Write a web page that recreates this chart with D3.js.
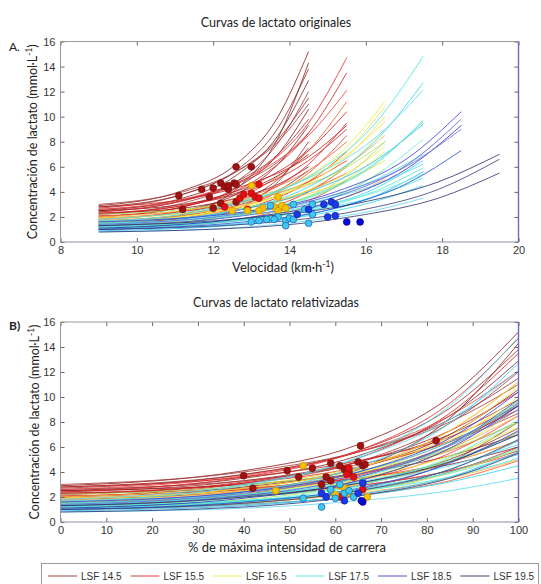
<!DOCTYPE html>
<html>
<head>
<meta charset="utf-8">
<script src="https://cdn.jsdelivr.net/npm/d3@7"></script>
<style>
  body { margin: 0; background: #fff; }
  svg text { font-family: "Liberation Sans", Arial, sans-serif; }
  .rotulo { font-family: Lato, "Open Sans", sans-serif; fill: #222; }
</style>
</head>
<body>
<div id="grafico"></div>
<script>
// Grupos (velocidad máxima de carrera) y muestras de cada curva
const grupos = ["LSF 14.5", "LSF 15.5", "LSF 16.5", "LSF 17.5", "LSF 18.5", "LSF 19.5"];
const velMuestras = [
  [9, 11.2, 12.6, 13.7, 14.5],
  [9, 11.6, 13.2, 14.5, 15.5],
  [9, 12, 13.9, 15.4, 16.5],
  [9, 12.4, 14.5, 16.2, 17.5],
  [9, 12.8, 15.2, 17.1, 18.5],
  [9, 13.2, 15.8, 17.9, 19.5]
];
const relMuestras = [0, 40, 65, 85, 100];

const lactato145 = [
  [2.9, 4.1, 6.2, 10.0, 15.2], [2.7, 3.8, 5.7, 9.1, 13.8], [2.5, 3.5, 5.3, 8.5, 12.9],
  [2.2, 3.1, 4.8, 7.9, 12.0], [2.8, 3.8, 5.6, 8.2, 11.5], [2.0, 2.8, 4.3, 7.0, 10.6],
  [2.4, 3.3, 4.8, 7.0, 9.8], [1.8, 2.5, 3.8, 6.2, 9.3], [2.6, 3.3, 4.6, 6.4, 8.7],
  [1.5, 2.1, 3.1, 5.0, 7.5], [2.3, 2.7, 3.5, 4.6, 6.0], [1.6, 2.1, 2.9, 4.1, 5.7],
  [1.2, 2.2, 4.2, 8.3, 14.3], [3.0, 4.0, 5.6, 8.0, 11.0], [1.0, 1.5, 2.6, 4.8, 8.0],
  [2.5, 3.0, 3.9, 5.3, 7.0]
];
const lactato155 = [
  [2.4, 3.6, 5.7, 9.5, 14.7], [2.0, 3.1, 5.1, 8.7, 13.5], [2.6, 3.7, 5.6, 8.5, 12.1],
  [1.8, 2.7, 4.3, 7.3, 11.2], [2.2, 3.2, 4.8, 7.3, 10.4], [1.6, 2.4, 3.7, 6.2, 9.5],
  [2.3, 3.1, 4.4, 6.5, 9.0], [1.4, 2.1, 3.3, 5.5, 8.5], [1.9, 2.6, 3.9, 5.7, 8.0],
  [1.5, 2.0, 3.0, 4.8, 7.2], [2.1, 2.6, 3.5, 4.8, 6.5], [1.2, 1.7, 2.5, 4.0, 6.0],
  [1.7, 2.2, 2.9, 4.1, 5.5], [1.0, 1.4, 2.1, 3.3, 4.9], [2.8, 3.6, 4.9, 6.8, 9.3]
];
const lactato165 = [
  [1.8, 2.7, 4.3, 7.3, 11.2], [1.5, 2.4, 4.0, 6.9, 10.8], [2.0, 2.9, 4.4, 6.7, 9.6],
  [1.3, 2.0, 3.4, 5.8, 9.0], [1.7, 2.5, 3.9, 5.9, 8.5], [1.1, 1.8, 3.0, 5.1, 8.0],
  [1.6, 2.3, 3.5, 5.3, 7.6], [1.4, 2.0, 3.0, 4.8, 7.2], [1.9, 2.5, 3.4, 4.8, 6.5],
  [1.2, 1.6, 2.4, 3.9, 5.8], [1.0, 1.5, 2.3, 3.5, 5.0], [2.2, 2.9, 4.1, 5.8, 8.0],
  [1.6, 2.4, 3.9, 6.5, 10.0]
];
const lactato175 = [
  [1.6, 2.9, 5.2, 9.3, 14.8], [1.3, 2.4, 4.4, 7.9, 12.7], [1.8, 3.0, 5.1, 8.2, 12.1],
  [1.2, 2.0, 3.5, 6.1, 9.7], [1.5, 2.4, 4.0, 6.4, 9.4], [1.0, 1.7, 2.9, 5.2, 8.2],
  [1.4, 2.1, 3.2, 4.9, 7.0], [1.1, 1.6, 2.6, 4.2, 6.5], [1.7, 2.2, 3.1, 4.5, 6.2],
  [1.3, 1.7, 2.5, 4.0, 5.9], [0.9, 1.3, 2.2, 3.6, 5.6], [1.5, 2.0, 2.8, 3.9, 5.4],
  [1.2, 1.7, 2.5, 3.6, 5.1], [1.0, 1.4, 2.1, 3.2, 4.5], [0.8, 1.1, 1.7, 2.5, 3.5],
  [1.4, 2.2, 3.6, 6.2, 9.6]
];
const lactato185 = [
  [1.6, 2.4, 4.0, 6.7, 10.4], [1.3, 2.1, 3.6, 6.2, 9.8], [1.1, 1.9, 3.3, 5.9, 9.3],
  [1.4, 2.3, 3.8, 6.1, 9.0], [1.0, 1.6, 2.7, 4.7, 7.3]
];
const lactato195 = [
  [1.3, 2.0, 3.1, 4.8, 7.0], [1.0, 1.5, 2.5, 4.2, 6.6], [0.8, 1.2, 2.1, 3.5, 5.5]
];
const curvasPorGrupo = [lactato145, lactato155, lactato165, lactato175, lactato185, lactato195];

// Umbrales individuales (puntos): velocidad y % de intensidad máxima
const puntosA = [
  [[11.1, 3.7], [11.2, 2.6], [11.7, 4.2], [11.9, 3.6], [12.0, 4.3], [12.2, 4.7], [12.3, 4.4], [12.4, 4.2],
   [12.4, 4.5], [12.55, 4.7], [12.6, 4.6], [12.6, 6.0], [13.0, 6.0], [12.2, 3.1], [12.0, 2.7], [12.6, 3.2]],
  [[12.7, 3.5], [12.8, 3.8], [13.0, 3.9], [13.1, 3.6], [13.2, 4.6], [13.2, 3.5], [12.3, 2.8], [12.9, 2.6]],
  [[13.0, 4.5], [13.3, 2.7], [13.6, 2.8], [13.7, 3.6], [13.8, 2.9], [13.9, 2.7], [12.9, 2.5], [13.2, 2.5],
   [12.5, 2.5], [13.7, 2.5]],
  [[13.5, 2.9], [14.1, 3.0], [14.6, 3.0], [13.0, 1.6], [13.2, 1.7], [13.4, 1.8], [13.7, 2.0], [13.9, 1.7],
   [14.0, 1.9], [14.1, 1.8], [14.5, 1.5], [13.9, 1.3], [14.4, 2.6], [14.6, 2.2], [13.6, 1.8]],
  [[14.9, 3.0], [15.1, 3.2], [15.2, 3.0], [15.0, 2.0], [15.2, 2.1], [14.2, 2.2], [14.5, 2.6]],
  [[15.5, 1.6], [15.85, 1.6]]
];
const puntosB = [
  [[40, 3.7], [42, 2.7], [49.5, 4.1], [52, 3.6], [55, 4.3], [59, 4.7], [61, 4.5], [62, 4.2], [63, 4.0],
   [65, 4.8], [65.5, 6.1], [66, 4.5], [66.5, 4.6], [58, 3.6], [59, 3.3], [82, 6.5], [57, 3.0]],
  [[63, 4.3], [64, 3.6], [66, 2.6], [62.5, 3.8], [61, 2.0]],
  [[53, 4.5], [47, 2.5], [61, 2.9], [62, 2.7], [63, 2.3], [67, 2.0], [64, 2.0], [60, 2.2]],
  [[53, 1.9], [57, 1.2], [60, 1.9], [61, 3.0], [62, 2.3], [63, 2.5], [64, 2.0], [66, 3.2], [59, 2.6]],
  [[57, 2.3], [58, 2.0], [65, 2.3], [66, 3.1], [62, 1.7]],
  [[66, 1.6], [65.7, 1.7]]
];
const ticksVel = [8, 10, 12, 14, 16, 18, 20];
const ticksRel = [0, 10, 20, 30, 40, 50, 60, 70, 80, 90, 100];
const ticksLactato = [0, 2, 4, 6, 8, 10, 12, 14, 16];

// Colores (tonos de cada grupo, tipo "jet")
const paletas = [
  ["#8b1a1a", "#9e2b2b", "#7d2424", "#a83a3a", "#933030"],
  ["#e3262c", "#d41f1f", "#ee3b3b", "#f05a28", "#c91c1c"],
  ["#f2ea3a", "#e6e84a", "#f7d23a", "#c8e64a", "#fbb040", "#a8e060"],
  ["#3fe6e6", "#2fd4f0", "#5ad8f8", "#52e8c8", "#27b8f0", "#66f0e0"],
  ["#3c3cd8", "#5555d0", "#2a2ac0", "#6a6ae0", "#1e50e0"],
  ["#2c2c66", "#3b3b78", "#303070"]
];
const coloresLeyenda = ["#a04040", "#e03a44", "#f0ee60", "#60e4e4", "#5050d0", "#404070"];
const rellenoPuntos = ["#a01212", "#e01010", "#f4c400", "#3cc8f0", "#1a3ae8", "#0a0ad8"];
const bordePuntos = ["#7a0c0c", "#b00c0c", "#d08a00", "#1a5ab0", "#1020a0", "#05058a"];

const ancho = 541, alto = 584;
const svg = d3.select("#grafico").append("svg")
  .attr("width", ancho)
  .attr("height", alto);

function dibujarPanel(cfg) {
  const x = d3.scaleLinear().domain(cfg.dominio).range([60.5, 518.5]);
  const y = d3.scaleLinear().domain([0, 16]).range([cfg.abajo, cfg.arriba]);
  const g = svg.append("g");

  // Curvas de lactato
  const linea = d3.line().x(d => x(d[0])).y(d => y(d[1])).curve(d3.curveMonotoneX);
  curvasPorGrupo.forEach((curvas, gi) => {
    const xs = cfg.muestras(gi);
    g.append("g").selectAll("path")
      .data(curvas)
      .join("path")
        .attr("d", c => linea(d3.zip(xs, c)))
        .attr("fill", "none")
        .attr("stroke", (c, i) => paletas[gi][i % paletas[gi].length])
        .attr("stroke-width", 0.9)
        .attr("stroke-opacity", 0.9);
  });

  // Puntos individuales
  cfg.puntos.forEach((pts, gi) => {
    g.append("g").selectAll("circle")
      .data(pts)
      .join("circle")
        .attr("cx", d => x(d[0]))
        .attr("cy", d => y(d[1]))
        .attr("r", 3.4)
        .attr("fill", rellenoPuntos[gi])
        .attr("stroke", bordePuntos[gi])
        .attr("stroke-width", 0.7);
  });

  // Marco y ticks hacia dentro (estilo MATLAB)
  const marco = "#8d8daa";
  const ejeX = g.append("g").attr("transform", `translate(0,${cfg.abajo})`)
    .call(d3.axisBottom(x).tickValues(cfg.ticks).tickSize(-4).tickPadding(4));
  const ejeXsup = g.append("g").attr("transform", `translate(0,${cfg.arriba})`)
    .call(d3.axisTop(x).tickValues(cfg.ticks).tickSize(-4).tickFormat(""));
  const ejeY = g.append("g").attr("transform", "translate(60.5,0)")
    .call(d3.axisLeft(y).tickValues(ticksLactato).tickSize(-4).tickPadding(5));
  const ejeYder = g.append("g").attr("transform", "translate(518.5,0)")
    .call(d3.axisRight(y).tickValues(ticksLactato).tickSize(-4).tickFormat(""));
  [ejeX, ejeXsup, ejeY, ejeYder].forEach(e => {
    e.select(".domain").remove();
    e.selectAll("line").attr("stroke", "#666");
    e.selectAll("text").attr("fill", "#333").style("font-size", "11px");
  });
  g.append("line").attr("x1", 60.5).attr("x2", 518.5).attr("y1", cfg.arriba).attr("y2", cfg.arriba).attr("stroke", "#999");
  g.append("line").attr("x1", 60.5).attr("x2", 518.5).attr("y1", cfg.abajo).attr("y2", cfg.abajo).attr("stroke", marco);
  g.append("line").attr("x1", 60.5).attr("x2", 60.5).attr("y1", cfg.arriba).attr("y2", cfg.abajo).attr("stroke", "#999");
  g.append("line").attr("x1", 518.5).attr("x2", 518.5).attr("y1", cfg.arriba).attr("y2", cfg.abajo)
    .attr("stroke", "#6b6bc4").attr("stroke-width", 1.4);

  // Textos
  g.append("text").attr("class", "rotulo").attr("x", 276).attr("y", cfg.arriba - 15)
    .attr("text-anchor", "middle").style("font-size", "12.5px").text(cfg.titulo);
  const tx = g.append("text").attr("class", "rotulo").attr("x", cfg.centroX).attr("y", cfg.abajo + 30)
    .attr("text-anchor", "middle").style("font-size", "13px").text(cfg.etiquetaX);
  if (cfg.supX) {
    tx.append("tspan").attr("baseline-shift", "super").style("font-size", "8.5px").text("-1");
    tx.append("tspan").text(")");
  }
  const ty = g.append("text").attr("class", "rotulo")
    .attr("transform", `translate(${cfg.posYetiqueta},${(cfg.arriba + cfg.abajo) / 2}) rotate(-90)`)
    .attr("text-anchor", "middle").style("font-size", "12.5px").text("Concentración de lactato (mmol·L");
  ty.append("tspan").attr("baseline-shift", "super").style("font-size", "8.5px").text("-1");
  ty.append("tspan").text(")");
  g.append("text").attr("class", "rotulo").attr("x", 9).attr("y", cfg.arriba + cfg.dyLetra)
    .style("font-size", "12px").style("font-weight", cfg.pesoLetra).attr("fill", "#333").text(cfg.letra);
}

dibujarPanel({
  dominio: [8, 20], ticks: ticksVel, arriba: 41.5, abajo: 242,
  muestras: gi => velMuestras[gi], puntos: puntosA,
  titulo: "Curvas de lactato originales", etiquetaX: "Velocidad (km·h", supX: true, centroX: 283,
  posYetiqueta: 37, letra: "A.", dyLetra: 9, pesoLetra: "normal"
});
dibujarPanel({
  dominio: [0, 100], ticks: ticksRel, arriba: 322, abajo: 522,
  muestras: () => relMuestras, puntos: puntosB,
  titulo: "Curvas de lactato relativizadas", etiquetaX: "% de máxima intensidad de carrera", supX: false, centroX: 287,
  posYetiqueta: 39, letra: "B)", dyLetra: 8, pesoLetra: "bold"
});

// Leyenda inferior
const leyenda = svg.append("g");
leyenda.append("rect").attr("x", 41.5).attr("y", 563.5).attr("width", 497).attr("height", 30)
  .attr("fill", "none").attr("stroke", "#999");
grupos.forEach((nombre, i) => {
  const x0 = 48 + i * 82.5;
  leyenda.append("line").attr("x1", x0).attr("x2", x0 + 29).attr("y1", 576).attr("y2", 576)
    .attr("stroke", coloresLeyenda[i]).attr("stroke-width", 1);
  leyenda.append("text").attr("x", x0 + 33).attr("y", 579.5).attr("fill", "#333")
    .style("font-size", "10px").text(nombre);
});
</script>
</body>
</html>
